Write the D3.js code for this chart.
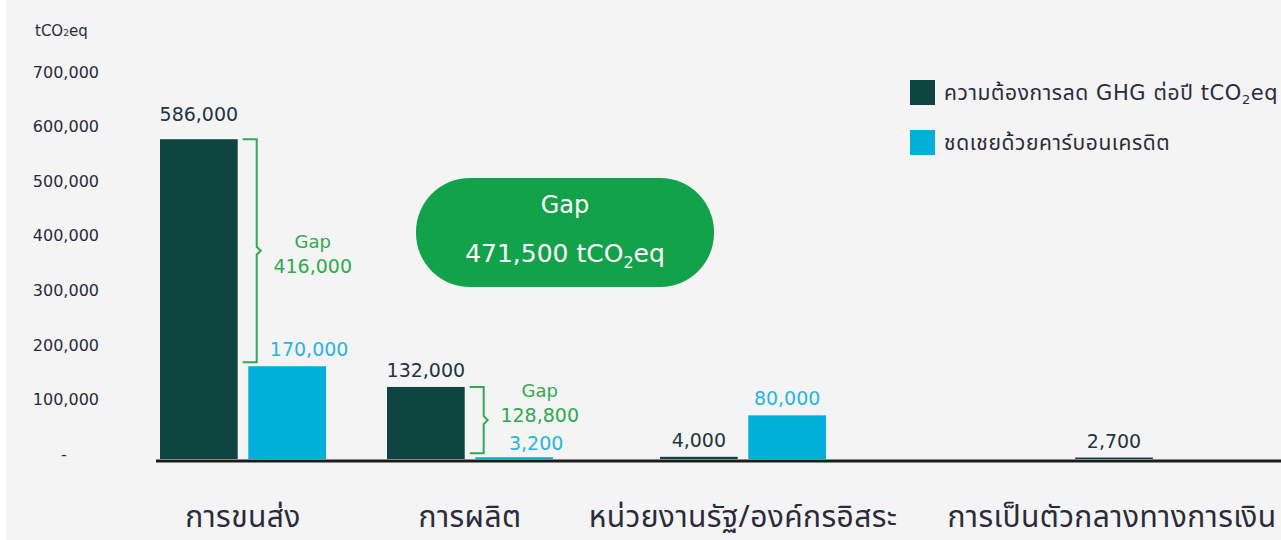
<!DOCTYPE html>
<html lang="th">
<head>
  <meta charset="UTF-8">
  <title>GHG gap vs carbon credits</title>
  <script src="https://d3js.org/d3.v7.min.js"></script>
  <style>
    html, body { margin: 0; padding: 0; background: #fff; }
    svg { display: block; font-family: "DejaVu Sans", "Noto Sans Thai", "Noto Sans", sans-serif; }
    .tick-label { font-size: 16px; fill: #2a2a3a; }
    .cat-label { font-family: "Noto Sans Thai", "Noto Sans", sans-serif; font-size: 30px; letter-spacing: 0.4px; fill: #2b2b3b; }
    .legend-text { font-size: 21px; letter-spacing: 0.6px; fill: #2b2b3b; }
  </style>
</head>
<body>
  <svg width="1281" height="540"></svg>

  <script>
    // categories and values
    const categories = ["การขนส่ง", "การผลิต", "หน่วยงานรัฐ/องค์กรอิสระ", "การเป็นตัวกลางทางการเงิน"];
    const demand = [586000, 132000, 4000, 2700];          // ความต้องการลด GHG ต่อปี
    const offset = [170000, 3200, 80000, null];           // ชดเชยด้วยคาร์บอนเครดิต
    const gaps = [416000, 128800, null, null];
    const yTicks = [0, 100000, 200000, 300000, 400000, 500000, 600000, 700000];
    const totalGap = "471,500";

    const darkCol = "#0f4541";
    const lightCol = "#00b0da";
    const gapCol = "#2faa4f";

    const svg = d3.select("svg");
    const W = 1281, H = 540;

    svg.append("rect").attr("x", 6).attr("y", 0).attr("width", W - 6).attr("height", H).attr("fill", "#f4f4f4");

    const y = d3.scaleLinear().domain([0, 700000]).range([459, 77]);

    // group centres are not evenly spaced in the original layout
    const xc = d3.scaleOrdinal().domain(categories).range([243, 470, 743, 1112]);
    const xs = d3.scaleBand().domain(["demand", "offset"]).range([-83, 83]).paddingInner(0.12);
    const bw = xs.bandwidth();

    const fmt = d3.format(",");

    // y axis title
    const title = svg.append("text").attr("x", 35).attr("y", 36).attr("font-size", 15).attr("fill", "#2a2a3a");
    title.append("tspan").text("tCO");
    title.append("tspan").text("2").attr("font-size", 9);
    title.append("tspan").text("eq");

    // y tick labels
    svg.append("g").selectAll("text")
      .data(yTicks)
      .join("text")
      .attr("class", "tick-label")
      .attr("x", d => d === 0 ? 64 : 99)
      .attr("y", d => y(d) - 5)
      .attr("dy", "0.36em")
      .attr("text-anchor", d => d === 0 ? "middle" : "end")
      .text(d => d === 0 ? "-" : fmt(d));

    const rows = categories.map((c, i) => ({ cat: c, demand: demand[i], offset: offset[i], gap: gaps[i] }));

    const darkX = d => d.offset === null ? xc(d.cat) - bw / 2 + 2 : xc(d.cat) + xs("demand");
    const lightX = d => xc(d.cat) + xs("offset");

    // bars
    svg.append("g").selectAll("rect")
      .data(rows)
      .join("rect")
      .attr("x", darkX)
      .attr("y", d => y(d.demand))
      .attr("width", bw)
      .attr("height", d => y(0) - y(d.demand))
      .attr("fill", darkCol);

    svg.append("g").selectAll("rect")
      .data(rows.filter(d => d.offset !== null))
      .join("rect")
      .attr("x", lightX)
      .attr("y", d => y(d.offset))
      .attr("width", bw)
      .attr("height", d => y(0) - y(d.offset))
      .attr("fill", lightCol);

    // baseline
    svg.append("line")
      .attr("x1", 156).attr("x2", W)
      .attr("y1", y(0) + 2).attr("y2", y(0) + 2)
      .attr("stroke", "#1c1c1c").attr("stroke-width", 3);

    // value labels
    svg.append("g").selectAll("text")
      .data(rows)
      .join("text")
      .attr("x", d => darkX(d) + bw / 2)
      .attr("y", d => y(d.demand) - (d.demand > 500000 ? 18 : 10))
      .attr("text-anchor", "middle")
      .attr("font-size", 19)
      .attr("fill", "#1f3540")
      .text(d => fmt(d.demand));

    svg.append("g").selectAll("text")
      .data(rows.filter(d => d.offset !== null))
      .join("text")
      .attr("x", d => lightX(d) + bw / 2 + (d.gap !== null ? 22 : 0))
      .attr("y", d => y(d.offset) - (d.offset < 10000 ? 7 : 10))
      .attr("text-anchor", "middle")
      .attr("font-size", 19)
      .attr("fill", "#29b4e0")
      .text(d => fmt(d.offset));

    // gap brackets
    const gapRows = rows.filter(d => d.gap !== null);
    const bracket = svg.append("g").selectAll("g")
      .data(gapRows)
      .join("g");

    bracket.append("path")
      .attr("fill", "none")
      .attr("stroke", gapCol)
      .attr("stroke-width", 2)
      .attr("d", d => {
        const x0 = darkX(d) + bw + 5, x1 = x0 + 14;
        const t = y(d.demand), b = y(d.offset) - 4, m = (t + b) / 2;
        return `M${x0},${t}H${x1}V${m - 4}L${x1 + 4},${m}L${x1},${m + 4}V${b}H${x0}`;
      });

    const gapLine2 = d => Math.min((y(d.demand) + y(d.offset)) / 2 + 20, y(d.offset) - 35);

    bracket.append("text")
      .attr("x", d => darkX(d) + bw + 75)
      .attr("y", d => gapLine2(d) - 25)
      .attr("text-anchor", "middle")
      .attr("font-size", 18)
      .attr("fill", gapCol)
      .text("Gap");

    bracket.append("text")
      .attr("x", d => darkX(d) + bw + 75)
      .attr("y", gapLine2)
      .attr("text-anchor", "middle")
      .attr("font-size", 19)
      .attr("fill", gapCol)
      .text(d => fmt(d.gap));

    // total gap pill
    const pill = svg.append("g");
    pill.append("rect")
      .attr("x", 416).attr("y", 178).attr("width", 298).attr("height", 109)
      .attr("rx", 54).attr("fill", "#12a34a");
    pill.append("text")
      .attr("x", 565).attr("y", 213).attr("text-anchor", "middle")
      .attr("font-size", 24).attr("fill", "#fff").text("Gap");
    const pt = pill.append("text")
      .attr("x", 565).attr("y", 262).attr("text-anchor", "middle")
      .attr("font-size", 25).attr("fill", "#fff");
    pt.append("tspan").text(totalGap + " tCO");
    pt.append("tspan").text("2").attr("font-size", 16).attr("dy", 6);
    pt.append("tspan").text("eq").attr("dy", -6);

    // category labels
    svg.append("g").selectAll("text")
      .data(categories)
      .join("text")
      .attr("class", "cat-label")
      .attr("x", d => xc(d))
      .attr("y", 527)
      .attr("text-anchor", "middle")
      .text(d => d);

    // legend
    const legend = svg.append("g").attr("transform", "translate(910,80)");
    legend.append("rect").attr("width", 25).attr("height", 25).attr("fill", darkCol);
    const l1 = legend.append("text").attr("class", "legend-text").attr("x", 34).attr("y", 20);
    l1.append("tspan").text("ความต้องการลด GHG ต่อปี tCO");
    l1.append("tspan").text("2").attr("font-size", 13).attr("dy", 4);
    l1.append("tspan").text("eq").attr("dy", -4);
    legend.append("rect").attr("y", 50).attr("width", 25).attr("height", 25).attr("fill", lightCol);
    legend.append("text").attr("class", "legend-text").attr("x", 34).attr("y", 70).text("ชดเชยด้วยคาร์บอนเครดิต");
  </script>
</body>
</html>
